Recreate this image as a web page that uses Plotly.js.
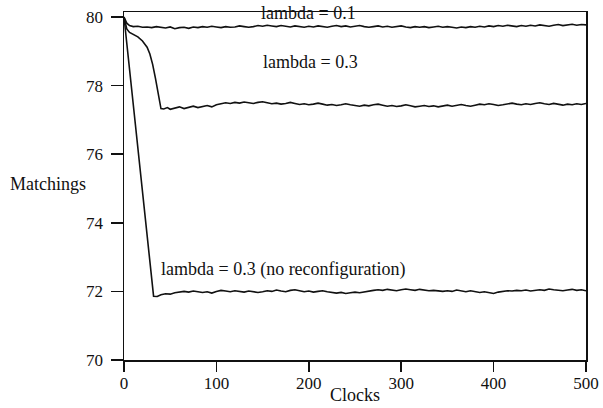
<!DOCTYPE html>
<html>
<head>
<meta charset="utf-8">
<script src="https://cdn.plot.ly/plotly-3.0.1.min.js"></script>
<style>html,body{margin:0;padding:0;background:#fff;}#chart{width:603px;height:408px;}</style>
</head>
<body>
<div id="chart"></div>
<script>
// Series: lambda = 0.1
var xLambda01 = [0,3,6,10,15,20,25,30,35,40,45,50,55,60,65,70,75,80,85,90,95,100,105,110,115,120,125,130,135,140,145,150,155,160,165,170,175,180,185,190,195,200,205,210,215,220,225,230,235,240,245,250,255,260,265,270,275,280,285,290,295,300,305,310,315,320,325,330,335,340,345,350,355,360,365,370,375,380,385,390,395,400,405,410,415,420,425,430,435,440,445,450,455,460,465,470,475,480,485,490,495,500];
var yLambda01 = [80.0,79.82,79.75,79.72,79.73,79.70,79.71,79.69,79.72,79.70,79.68,79.71,79.66,79.69,79.70,79.67,79.71,79.69,79.72,79.70,79.73,79.71,79.69,79.72,79.70,79.71,79.74,79.72,79.70,79.72,79.75,79.73,79.76,79.74,79.72,79.75,79.73,79.71,79.74,79.72,79.70,79.73,79.71,79.74,79.72,79.70,79.73,79.75,79.72,79.74,79.71,79.73,79.75,79.72,79.70,79.72,79.74,79.71,79.73,79.70,79.72,79.74,79.71,79.69,79.72,79.70,79.72,79.69,79.71,79.73,79.70,79.72,79.70,79.68,79.71,79.69,79.72,79.70,79.73,79.71,79.74,79.72,79.75,79.73,79.76,79.74,79.72,79.75,79.73,79.76,79.74,79.77,79.75,79.73,79.76,79.78,79.75,79.77,79.79,79.76,79.78,79.77];

// Series: lambda = 0.3
var xLambda03 = [0,3,6,10,15,20,25,28,31,34,37,40,43,47,50,55,60,65,70,75,80,85,90,95,100,105,110,115,120,125,130,135,140,145,150,155,160,165,170,175,180,185,190,195,200,205,210,215,220,225,230,235,240,245,250,255,260,265,270,275,280,285,290,295,300,305,310,315,320,325,330,335,340,345,350,355,360,365,370,375,380,385,390,395,400,405,410,415,420,425,430,435,440,445,450,455,460,465,470,475,480,485,490,495,500];
var yLambda03 = [80.0,79.65,79.55,79.50,79.42,79.30,79.12,78.92,78.62,78.22,77.75,77.33,77.32,77.36,77.31,77.35,77.38,77.33,77.37,77.40,77.36,77.39,77.42,77.38,77.44,77.47,77.50,77.48,77.51,77.49,77.52,77.50,77.48,77.51,77.53,77.50,77.47,77.49,77.46,77.48,77.51,77.48,77.45,77.47,77.44,77.46,77.49,77.46,77.43,77.45,77.42,77.44,77.47,77.44,77.42,77.40,77.43,77.41,77.44,77.46,77.43,77.40,77.42,77.39,77.41,77.44,77.41,77.38,77.40,77.42,77.39,77.41,77.38,77.40,77.43,77.40,77.42,77.45,77.42,77.40,77.43,77.46,77.44,77.47,77.45,77.42,77.44,77.47,77.49,77.46,77.44,77.47,77.45,77.48,77.50,77.47,77.45,77.48,77.46,77.43,77.46,77.44,77.47,77.45,77.48];

// Series: lambda = 0.3 (no reconfiguration)
var xNoReconf = [0,32,36,40,45,50,55,60,65,70,75,80,85,90,95,100,105,110,115,120,125,130,135,140,145,150,155,160,165,170,175,180,185,190,195,200,205,210,215,220,225,230,235,240,245,250,255,260,265,270,275,280,285,290,295,300,305,310,315,320,325,330,335,340,345,350,355,360,365,370,375,380,385,390,395,400,405,410,415,420,425,430,435,440,445,450,455,460,465,470,475,480,485,490,495,500];
var yNoReconf = [80.0,71.86,71.85,71.90,71.93,71.92,71.96,71.98,72.00,71.98,72.01,71.99,71.97,71.99,71.95,72.00,72.03,72.01,71.99,72.02,72.00,71.98,72.01,71.99,71.97,71.99,72.02,72.00,72.04,72.01,71.99,72.03,72.05,72.02,71.99,72.01,71.98,72.00,72.02,71.99,71.97,71.95,71.97,71.94,71.96,71.98,71.96,71.99,72.01,72.03,72.05,72.03,72.06,72.04,72.02,72.05,72.07,72.05,72.03,72.06,72.04,72.02,72.03,72.01,72.00,72.02,72.00,72.04,72.01,71.99,72.02,72.00,71.97,71.99,71.96,71.94,71.98,72.00,72.02,72.01,72.03,72.02,72.04,72.01,72.03,72.05,72.03,72.07,72.05,72.04,72.02,72.04,72.06,72.03,72.05,72.02];

var xTicks = [0,100,200,300,400,500];
var yTicks = [70,72,74,76,78,80];

var labels = ["lambda = 0.1","lambda = 0.3","lambda = 0.3 (no reconfiguration)"];
var labelX = [200,202,173];
var labelY = [80.11,78.69,72.65];

var lineStyle = {color:'#111', width:1.6};
var traces = [
  {x:xLambda01, y:yLambda01, mode:'lines', line:lineStyle, hoverinfo:'skip'},
  {x:xLambda03, y:yLambda03, mode:'lines', line:lineStyle, hoverinfo:'skip'},
  {x:xNoReconf, y:yNoReconf, mode:'lines', line:lineStyle, hoverinfo:'skip'}
];

var fam = '"Liberation Serif", "DejaVu Serif", serif';
var font = {family:fam, size:18, color:'#111'};
var tickFont = {family:fam, size:17, color:'#111'};
var annotations = labels.map(function(t,i){
  return {text:t, x:labelX[i], y:labelY[i], xref:'x', yref:'y', showarrow:false, font:font, xanchor:'center', yanchor:'middle'};
});
annotations.push({text:'Matchings', xref:'paper', yref:'paper', x:-0.165, y:0.505, showarrow:false, font:font, xanchor:'center', yanchor:'middle'});
annotations.push({text:'Clocks', xref:'paper', yref:'paper', x:0.5, y:-0.135, showarrow:false, font:font, xanchor:'center', yanchor:'bottom'});

var layout = {
  width:603, height:408,
  margin:{l:124, r:17, t:12, b:48},
  paper_bgcolor:'#fff', plot_bgcolor:'#fff',
  showlegend:false,
  font:font,
  xaxis:{range:[0,500], tickvals:xTicks, ticktext:xTicks.map(String), ticks:'outside', ticklen:10, tickwidth:1.5, tickcolor:'#111',
         showline:true, linecolor:'#111', linewidth:1.5, mirror:true, showgrid:false, zeroline:false, tickfont:tickFont, ticklabelstandoff:-3},
  yaxis:{range:[70,80.146], tickvals:yTicks, ticktext:yTicks.map(String), ticks:'outside', ticklen:12, tickwidth:1.5, tickcolor:'#111',
         showline:true, linecolor:'#111', linewidth:1.5, mirror:true, showgrid:false, zeroline:false, tickfont:tickFont, ticklabelstandoff:4},
  annotations:annotations
};

Plotly.newPlot('chart', traces, layout, {staticPlot:true, displayModeBar:false});
</script>
</body>
</html>
